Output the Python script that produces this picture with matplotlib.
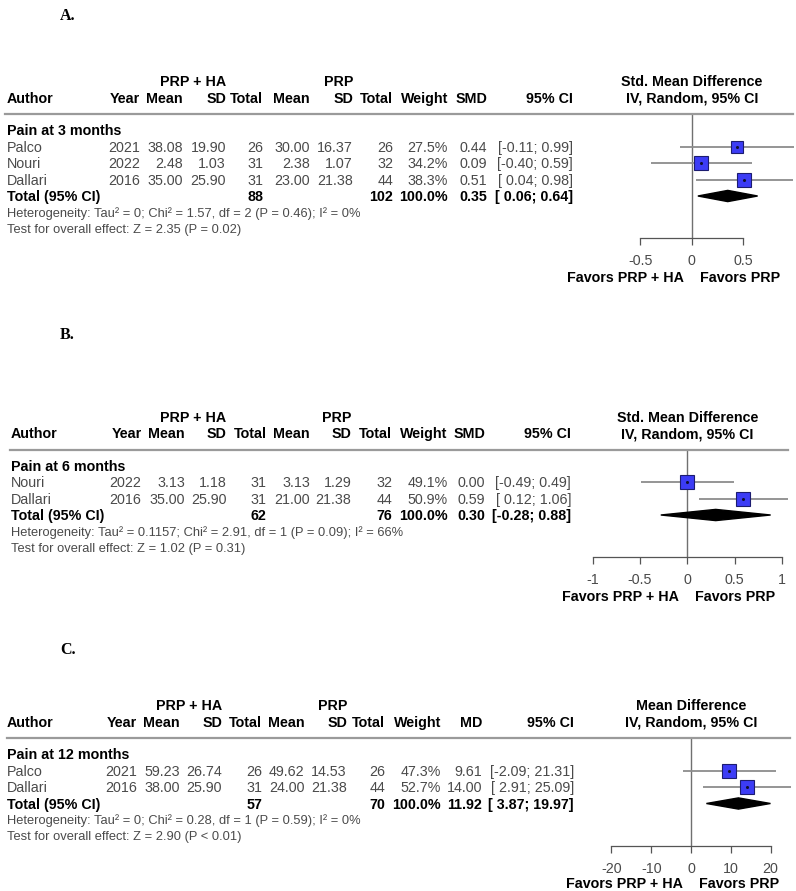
import matplotlib
matplotlib.use("Agg")
import matplotlib.pyplot as plt
from matplotlib.lines import Line2D
import numpy as np

plt.rcParams["font.family"] = ["Liberation Sans", "DejaVu Sans"]

# ---------------- data ----------------
# Panel A: pain at 3 months (SMD)
a_authors = ["Palco", "Nouri", "Dallari"]
a_years = [2021, 2022, 2016]
a_mean_e = [38.08, 2.48, 35.00]
a_sd_e = [19.90, 1.03, 25.90]
a_n_e = [26, 31, 31]
a_mean_c = [30.00, 2.38, 23.00]
a_sd_c = [16.37, 1.07, 21.38]
a_n_c = [26, 32, 44]
a_weight = [27.5, 34.2, 38.3]
a_est = [0.44, 0.09, 0.51]
a_lo = [-0.11, -0.40, 0.04]
a_hi = [0.99, 0.59, 0.98]
a_pooled = [0.35, 0.06, 0.64]
a_ticks = [-0.5, 0, 0.5]
a_het = "Heterogeneity: Tau² = 0; Chi² = 1.57, df = 2 (P = 0.46); I² = 0%"
a_test = "Test for overall effect: Z = 2.35 (P = 0.02)"

# Panel B: pain at 6 months (SMD)
b_authors = ["Nouri", "Dallari"]
b_years = [2022, 2016]
b_mean_e = [3.13, 35.00]
b_sd_e = [1.18, 25.90]
b_n_e = [31, 31]
b_mean_c = [3.13, 21.00]
b_sd_c = [1.29, 21.38]
b_n_c = [32, 44]
b_weight = [49.1, 50.9]
b_est = [0.00, 0.59]
b_lo = [-0.49, 0.12]
b_hi = [0.49, 1.06]
b_pooled = [0.30, -0.28, 0.88]
b_ticks = [-1, -0.5, 0, 0.5, 1]
b_het = "Heterogeneity: Tau² = 0.1157; Chi² = 2.91, df = 1 (P = 0.09); I² = 66%"
b_test = "Test for overall effect: Z = 1.02 (P = 0.31)"

# Panel C: pain at 12 months (MD)
c_authors = ["Palco", "Dallari"]
c_years = [2021, 2016]
c_mean_e = [59.23, 38.00]
c_sd_e = [26.74, 25.90]
c_n_e = [26, 31]
c_mean_c = [49.62, 24.00]
c_sd_c = [14.53, 21.38]
c_n_c = [26, 44]
c_weight = [47.3, 52.7]
c_est = [9.61, 14.00]
c_lo = [-2.09, 2.91]
c_hi = [21.31, 25.09]
c_pooled = [11.92, 3.87, 19.97]
c_ticks = [-20, -10, 0, 10, 20]
c_het = "Heterogeneity: Tau² = 0; Chi² = 0.28, df = 1 (P = 0.59); I² = 0%"
c_test = "Test for overall effect: Z = 2.90 (P < 0.01)"

# ---------------- layout (pixels) ----------------
W, H = 796, 891
fig = plt.figure(figsize=(W / 100, H / 100), dpi=100)

TXT = "#4a4a4a"
ROW = 16.5
FS = 10.3      # table text
FS_HET = 9.3   # heterogeneity / overall effect lines


def fx(x):
    return x / W


def fy(y):
    return 1 - y / H


def txt(x, y, s, fs=FS, bold=False, color="black", ha="left", **kw):
    # y is the visual middle of the capitals; put the baseline half a cap-height below
    cap = fs * 100 / 72 * 0.716
    fig.text(fx(x), fy(y + cap / 2), s, fontsize=fs, color=color, ha=ha, va="baseline",
             fontweight="bold" if bold else "normal", **kw)


def draw_panel(letter, letter_y, top, author_x, cols, line_x, zero_px, ppu,
               group, measure, measure_title,
               authors, years, mean_e, sd_e, n_e, mean_c, sd_c, n_c,
               weight, est, lo, hi, pooled, ticks, het, test, fav_off=39):
    txt(60, letter_y, letter, fs=11.5, bold=True, family=["Liberation Serif", "DejaVu Serif"])

    # header rows
    h1, h2 = top, top + 16.5
    txt(cols[2], h1, "PRP + HA", bold=True, ha="right")
    txt(cols[5], h1, "PRP", bold=True, ha="right")
    heads = ["Year", "Mean", "SD", "Total", "Mean", "SD", "Total", "Weight", measure, "95% CI"]
    txt(author_x, h2, "Author", bold=True)
    for cx, hd in zip(cols, heads):
        txt(cx, h2, hd, bold=True, ha="right")
    txt(zero_px, h1, measure_title, bold=True, ha="center")
    txt(zero_px, h2, "IV, Random, 95% CI", bold=True, ha="center")

    line_y = top + 33
    fig.add_artist(Line2D([fx(line_x[0]), fx(line_x[1])], [fy(line_y), fy(line_y)],
                          color="#9a9a9a", lw=1.6, transform=fig.transFigure))

    txt(author_x, top + 49, group, bold=True)

    first = top + 65.5
    n = len(authors)
    for i in range(n):
        y = first + i * ROW
        vals = [str(years[i]), f"{mean_e[i]:.2f}", f"{sd_e[i]:.2f}", str(n_e[i]),
                f"{mean_c[i]:.2f}", f"{sd_c[i]:.2f}", str(n_c[i]),
                f"{weight[i]:.1f}%", f"{est[i]:.2f}", f"[{lo[i]:5.2f}; {hi[i]:.2f}]"]
        txt(author_x, y, authors[i], color=TXT)
        for cx, v in zip(cols, vals):
            txt(cx, y, v, color=TXT, ha="right")

    ty = first + n * ROW
    txt(author_x, ty, "Total (95% CI)", bold=True)
    tot = {3: str(sum(n_e)), 6: str(sum(n_c)), 7: f"{sum(weight):.1f}%",
           8: f"{pooled[0]:.2f}", 9: f"[{pooled[1]:5.2f}; {pooled[2]:.2f}]"}
    for k, v in tot.items():
        txt(cols[k], ty, v, bold=True, ha="right")

    het_y = first + (n + 1) * ROW - 0.5
    test_y = het_y + 16.3
    txt(author_x, het_y, het, fs=FS_HET, color=TXT)
    txt(author_x, test_y, test, fs=FS_HET, color=TXT)

    # forest plot axes
    axis_y = test_y + 10
    left_px, right_px = 585, 796
    ax = fig.add_axes([fx(left_px), fy(axis_y), fx(right_px - left_px), (axis_y - line_y) / H])
    ax.set_xlim((left_px - zero_px) / ppu, (right_px - zero_px) / ppu)
    ax.set_ylim((axis_y - first) / ROW, (line_y - first) / ROW)
    ax.patch.set_visible(False)
    for s in ["top", "right", "left"]:
        ax.spines[s].set_visible(False)
    ax.spines["bottom"].set_bounds(ticks[0], ticks[-1])
    ax.spines["bottom"].set_color("#555555")
    ax.spines["bottom"].set_linewidth(0.9)
    ax.set_yticks([])
    ax.set_xticks(ticks)
    ax.set_xticklabels([f"{t:g}" for t in ticks])
    ax.tick_params(axis="x", direction="out", length=5, width=0.9, color="#555555",
                   labelsize=FS, labelcolor=TXT, pad=6.5)

    ax.axvline(0, color="#707070", lw=1.0, zorder=1)

    wmax = max(weight)
    rows = np.arange(n)
    ax.hlines(rows, lo, hi, color="#8c8c8c", lw=1.3, zorder=2, clip_on=False)
    for i in range(n):
        side = 10.4 * np.sqrt(weight[i] / wmax)
        ax.plot(est[i], rows[i], marker="s", ms=side, mfc="#3c3cf5", mec="#1c1c70",
                mew=0.8, zorder=3, clip_on=False)
        ax.plot(est[i], rows[i], marker="o", ms=1.2, color="#101030", zorder=4)

    dh = 0.34
    ax.fill([pooled[1], pooled[0], pooled[2], pooled[0]],
            [n, n - dh, n, n + dh], color="black", zorder=3)

    fav_y = axis_y + fav_off
    txt(zero_px - 8, fav_y, "Favors PRP + HA", bold=True, ha="right")
    txt(zero_px + 8, fav_y, "Favors PRP", bold=True)


draw_panel("A.", 14, 81, 7, [140, 183, 226, 263, 310, 353, 393, 448, 487, 573], (5, 793),
           691.7, 103, "Pain at 3 months", "SMD", "Std. Mean Difference",
           a_authors, a_years, a_mean_e, a_sd_e, a_n_e, a_mean_c, a_sd_c, a_n_c,
           a_weight, a_est, a_lo, a_hi, a_pooled, a_ticks, a_het, a_test)

draw_panel("B.", 333, 416.5, 11, [141.5, 185, 226.5, 266.5, 310, 351.5, 392, 447.5, 485, 571], (10, 788),
           687.3, 94.7, "Pain at 6 months", "SMD", "Std. Mean Difference",
           b_authors, b_years, b_mean_e, b_sd_e, b_n_e, b_mean_c, b_sd_c, b_n_c,
           b_weight, b_est, b_lo, b_hi, b_pooled, b_ticks, b_het, b_test)

draw_panel("C.", 648, 705, 7, [137, 180, 222, 262, 304.5, 347, 385, 441, 482, 574], (7, 790),
           691, 3.98, "Pain at 12 months", "MD", "Mean Difference",
           c_authors, c_years, c_mean_e, c_sd_e, c_n_e, c_mean_c, c_sd_c, c_n_c,
           c_weight, c_est, c_lo, c_hi, c_pooled, c_ticks, c_het, c_test, fav_off=37)

fig.savefig("out.png", dpi=100, facecolor="white")
